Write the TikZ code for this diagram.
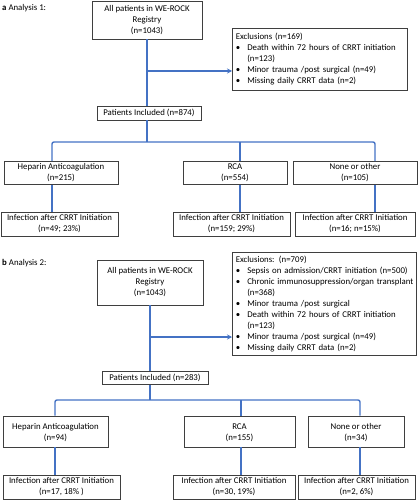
\documentclass[tikz,border=0pt]{standalone}
\usepackage{fontspec}
\setmainfont{Carlito}
\usetikzlibrary{arrows.meta}
\definecolor{flow}{HTML}{4472C4}
\definecolor{boxline}{HTML}{3F3F3F}
\newcommand{\bitem}[1]{\mbox{\makebox[11.5pt][l]{\textbullet}#1}}
\newcommand{\bcont}[1]{\mbox{\hspace*{11.5pt}#1}}
\begin{document}
\begin{tikzpicture}[x=1pt,y=-1pt,
  font=\fontsize{8.8}{11}\selectfont,
  box/.style={draw=boxline, line width=0.6pt, inner sep=0pt, align=center, fill=white},
  exbox/.style={draw=boxline, line width=0.6pt, inner xsep=3.5pt, inner ysep=0pt, align=left, anchor=north west},
  flowline/.style={draw=flow, line width=1.4pt},
  arr/.style={flowline, -{Stealth[length=5pt,width=5pt]}},
  lbl/.style={anchor=west, inner sep=0pt}]
\useasboundingbox (0,0) rectangle (418,500);

% ---------------- Panel a ----------------
\node[lbl] (la) at (2,8) {\textbf{a} Analysis 1:};
\node[box, minimum width=110pt, minimum height=38pt] (top1) at (147,20) {All patients in WE-ROCK\\Registry\\(n=1043)};
\node[exbox, text width=168pt, minimum height=62pt] (ex1) at (232,28) {%
Exclusions (n=169)\\
\bitem{Death within 72 hours of CRRT initiation}\\
\bcont{(n=123)}\\
\bitem{Minor trauma /post surgical (n=49)}\\
\bitem{Missing daily CRRT data (n=2)}};
\node[box, minimum width=104pt, minimum height=14pt] (inc1) at (149,113) {Patients Included (n=874)};

\node[box, minimum width=114pt, minimum height=23pt] (hep1) at (61,173) {Heparin Anticoagulation\\(n=215)};
\node[box, minimum width=104pt, minimum height=23pt] (rca1) at (235,173) {RCA\\(n=554)};
\node[box, minimum width=124pt, minimum height=23pt] (non1) at (355,173) {None or other\\(n=105)};

\node[box, minimum width=117pt, minimum height=24pt] (ih1) at (59.5,224) {Infection after CRRT Initiation\\(n=49; 23\%)};
\node[box, minimum width=117pt, minimum height=24pt] (ir1) at (231.5,224) {Infection after CRRT Initiation\\(n=159; 29\%)};
\node[box, minimum width=120pt, minimum height=24pt] (in1) at (355,224) {Infection after CRRT Initiation\\(n=16; n=15\%)};

\coordinate (br1) at (147,71);
\coordinate (bus1L) at (52,142);
\coordinate (bus1M) at (240,142);
\coordinate (bus1R) at (375,142);
\coordinate (bus1C) at (147,142);

\draw[flowline] (top1.south) -- (top1.south |- inc1.north);
\draw[arr] (br1) -- (br1 -| ex1.west);
\draw[flowline] (bus1C |- inc1.south) -- (bus1C);
\draw[flowline, rounded corners=2pt] (bus1L |- hep1.north) -- (bus1L) -- (bus1R) -- (bus1R |- non1.north);
\draw[flowline] (bus1M) -- (bus1M |- rca1.north);
\draw[flowline] (bus1L |- hep1.south) -- (bus1L |- ih1.north);
\draw[flowline] (bus1M |- rca1.south) -- (bus1M |- ir1.north);
\draw[flowline] (bus1R |- non1.south) -- (bus1R |- in1.north);

% ---------------- Panel b ----------------
\node[lbl] (lb) at (2,263) {\textbf{b} Analysis 2:};
\node[box, minimum width=106pt, minimum height=45pt] (top2) at (150,282.5) {All patients in WE-ROCK\\Registry\\(n=1043)};
\node[exbox, text width=177pt, minimum height=103pt] (ex2) at (232,252) {%
Exclusions: (n=709)\\
\bitem{Sepsis on admission/CRRT initiation (n=500)}\\
\bitem{Chronic immunosuppression/organ transplant}\\
\bcont{(n=368)}\\
\bitem{Minor trauma /post surgical}\\
\bitem{Death within 72 hours of CRRT initiation}\\
\bcont{(n=123)}\\
\bitem{Minor trauma /post surgical (n=49)}\\
\bitem{Missing daily CRRT data (n=2)}};
\node[box, minimum width=106pt, minimum height=13pt] (inc2) at (155,378) {Patients Included (n=283)};

\node[box, minimum width=105pt, minimum height=31pt] (hep2) at (55.5,431.5) {\mbox{}\\[-3pt]Heparin Anticoagulation\\(n=94)};
\node[box, minimum width=111pt, minimum height=31pt] (rca2) at (239.5,431.5) {\mbox{}\\[-3pt]RCA\\(n=155)};
\node[box, minimum width=96pt, minimum height=31pt] (non2) at (356,431.5) {\mbox{}\\[-3pt]None or other\\(n=34)};

\node[box, minimum width=117pt, minimum height=24pt] (ih2) at (61.5,487) {Infection after CRRT Initiation\\(n=17, 18\% )};
\node[box, minimum width=122pt, minimum height=24pt] (ir2) at (234,487) {Infection after CRRT Initiation\\(n=30, 19\%)};
\node[box, minimum width=117pt, minimum height=24pt] (in2) at (356.5,487) {Infection after CRRT Initiation\\(n=2, 6\%)};

\coordinate (br2) at (150,337);
\coordinate (bus2L) at (55,400);
\coordinate (bus2M) at (241,400);
\coordinate (bus2R) at (360,400);
\coordinate (bus2C) at (150,400);

\draw[flowline] (top2.south) -- (top2.south |- inc2.north);
\draw[arr] (br2) -- (br2 -| ex2.west);
\draw[flowline] (bus2C |- inc2.south) -- (bus2C);
\draw[flowline, rounded corners=2pt] (bus2L |- hep2.north) -- (bus2L) -- (bus2R) -- (bus2R |- non2.north);
\draw[flowline] (bus2M) -- (bus2M |- rca2.north);
\draw[flowline] (bus2L |- hep2.south) -- (bus2L |- ih2.north);
\draw[flowline] (bus2M |- rca2.south) -- (bus2M |- ir2.north);
\draw[flowline] (bus2R |- non2.south) -- (bus2R |- in2.north);
\end{tikzpicture}
\end{document}
